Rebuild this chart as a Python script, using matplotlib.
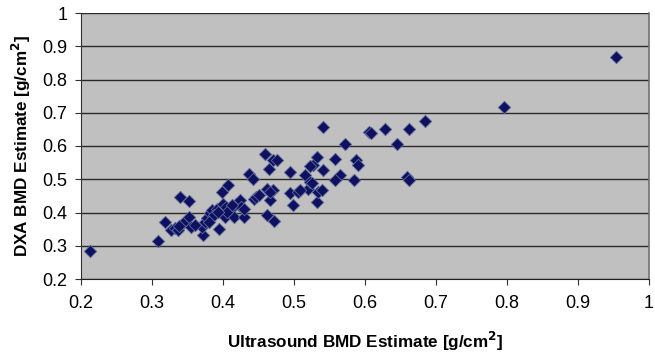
"""
DXA vs ultrasound BMD estimate scatter (Excel-style gray plot area)
"""

import matplotlib
matplotlib.use("Agg")
import matplotlib.pyplot as plt

plt.rcParams['font.family'] = ['Liberation Sans', 'DejaVu Sans']

# Ultrasound BMD estimate [g/cm^2]
us_bmd = [
    0.213, 0.308, 0.319, 0.327, 0.332, 0.336, 0.339, 0.344, 0.352, 0.352,
    0.355, 0.372, 0.371, 0.374, 0.377, 0.382, 0.385, 0.391, 0.395, 0.398,
    0.400, 0.400, 0.403, 0.404, 0.407, 0.410, 0.415, 0.419, 0.424, 0.426,
    0.429, 0.436, 0.442, 0.443, 0.447, 0.459, 0.462, 0.462, 0.465, 0.466,
    0.471, 0.472, 0.471, 0.476, 0.494, 0.495, 0.499, 0.506, 0.515, 0.520,
    0.523, 0.527, 0.532, 0.532, 0.534, 0.541, 0.541, 0.539, 0.558, 0.565,
    0.558, 0.572, 0.584, 0.588, 0.590, 0.605, 0.609, 0.628, 0.645, 0.659,
    0.662, 0.662, 0.685, 0.796, 0.954, 0.523, 0.525, 0.508, 0.388, 0.380,
    0.405, 0.412, 0.393, 0.360, 0.338, 0.451, 0.466, 0.430,
]

# DXA BMD estimate [g/cm^2]
dxa_bmd = [
    0.285, 0.315, 0.372, 0.347, 0.354, 0.347, 0.447, 0.367, 0.434, 0.387,
    0.357, 0.332, 0.357, 0.372, 0.382, 0.397, 0.407, 0.412, 0.349, 0.462,
    0.427, 0.397, 0.387, 0.417, 0.484, 0.407, 0.387, 0.427, 0.437, 0.417,
    0.387, 0.517, 0.502, 0.442, 0.447, 0.577, 0.392, 0.472, 0.532, 0.437,
    0.467, 0.375, 0.557, 0.557, 0.522, 0.458, 0.422, 0.462, 0.512, 0.472,
    0.492, 0.542, 0.567, 0.432, 0.462, 0.657, 0.527, 0.467, 0.560, 0.512,
    0.497, 0.606, 0.498, 0.558, 0.542, 0.642, 0.638, 0.650, 0.607, 0.507,
    0.497, 0.650, 0.675, 0.717, 0.868, 0.539, 0.488, 0.467, 0.392, 0.372,
    0.402, 0.422, 0.402, 0.362, 0.360, 0.452, 0.462, 0.412,
]

x_ticks = [0.2, 0.3, 0.4, 0.5, 0.6, 0.7, 0.8, 0.9, 1.0]
x_tick_labels = ['0.2', '0.3', '0.4', '0.5', '0.6', '0.7', '0.8', '0.9', '1']
y_ticks = [0.2, 0.3, 0.4, 0.5, 0.6, 0.7, 0.8, 0.9, 1.0]
y_tick_labels = ['0.2', '0.3', '0.4', '0.5', '0.6', '0.7', '0.8', '0.9', '1']

fig = plt.figure(figsize=(6.55, 3.53), dpi=100, facecolor='white')
ax = fig.add_axes((81 / 655, 1 - 279 / 353, 568 / 655, 266 / 353))
ax.set_facecolor('#c0c0c0')

ax.set_xlim(0.2, 1.0)
ax.set_ylim(0.2, 1.0)

# horizontal gridlines
ax.yaxis.grid(True, color='#2a2a2a', linewidth=1.0)
ax.set_axisbelow(True)

ax.scatter(us_bmd, dxa_bmd, marker='D', s=40, color='#101060',
           edgecolors='#5a6a9a', linewidths=0.6, zorder=3)

ax.spines['top'].set_visible(False)
ax.spines['left'].set_color('#303030')
ax.spines['bottom'].set_color('#202020')
ax.spines['right'].set_color('#707070')
ax.spines['right'].set_linewidth(1.2)

ax.set_xticks(x_ticks)
ax.set_xticklabels(x_tick_labels)
ax.set_yticks(y_ticks)
ax.set_yticklabels(y_tick_labels)
ax.tick_params(axis='both', direction='out', length=4.3, width=0.8,
               color='#303030', labelsize=13)
ax.tick_params(axis='x', pad=7)
ax.tick_params(axis='y', pad=5.5)

ax.set_xlabel('Ultrasound BMD Estimate [g/cm$^\\mathbf{2}$]', fontsize=12.3,
              fontweight='bold', labelpad=13)
ax.set_ylabel('DXA BMD Estimate [g/cm$^\\mathbf{2}$]', fontsize=12.3,
              fontweight='bold', labelpad=7)

fig.savefig('out.png', dpi=100, facecolor='white')
